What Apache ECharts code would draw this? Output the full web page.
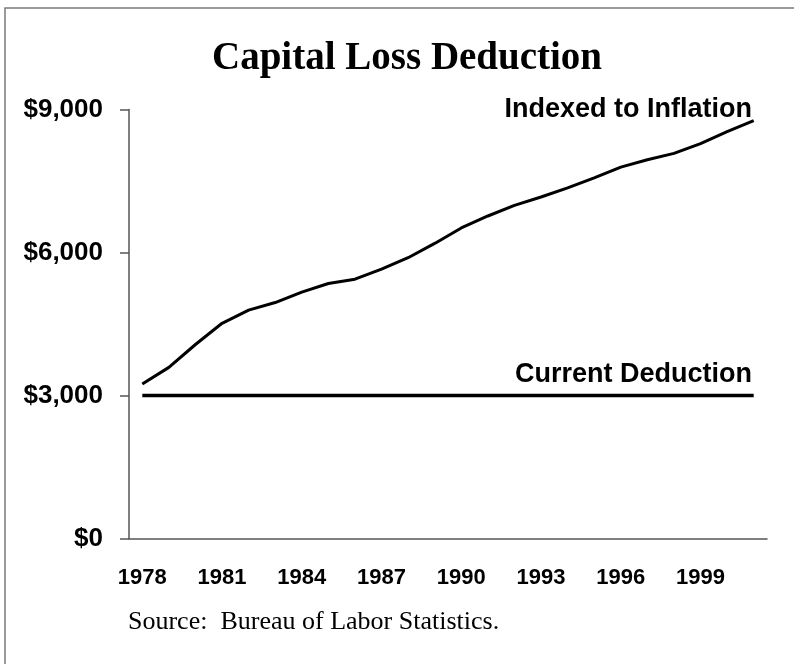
<!DOCTYPE html>
<html>
<head>
<meta charset="utf-8">
<script src="https://cdn.jsdelivr.net/npm/echarts@6/dist/echarts.min.js"></script>
<style>
html,body{margin:0;padding:0;background:#fff;}
#chart{width:794px;height:664px;}
</style>
</head>
<body>
<div id="chart"></div>
<script>
var years = ['1978','1979','1980','1981','1982','1983','1984','1985','1986','1987','1988','1989','1990','1991','1992','1993','1994','1995','1996','1997','1998','1999','2000','2001'];
var indexedValues = [3240,3590,4070,4515,4790,4950,5170,5350,5440,5650,5890,6190,6515,6766,6990,7165,7355,7565,7790,7945,8080,8285,8535,8766];
var currentValues = [3000,3000,3000,3000,3000,3000,3000,3000,3000,3000,3000,3000,3000,3000,3000,3000,3000,3000,3000,3000,3000,3000,3000,3000];
var yTicks = [0,3000,6000,9000];

var chart = echarts.init(document.getElementById('chart'), null, {renderer:'canvas'});
chart.setOption({
  animation:false,
  backgroundColor:'#fff',
  title:{
    text:'Capital Loss Deduction',
    left:207, top:34,
    textStyle:{fontFamily:'Liberation Serif', fontWeight:'bold', fontSize:39, color:'#000'}
  },
  grid:{left:129, right:27, top:109.5, bottom:125.5, containLabel:false},
  xAxis:{
    type:'category', data:years, boundaryGap:true,
    axisLine:{lineStyle:{color:'#555', width:1.5}},
    axisTick:{show:false},
    axisLabel:{interval:2, margin:28, fontFamily:'Liberation Sans', fontWeight:'bold', fontSize:22, color:'#000'}
  },
  yAxis:{
    type:'value', min:0, max:9000, interval:3000,
    axisLine:{show:true, lineStyle:{color:'#555', width:1.5}},
    axisTick:{show:true, length:9, lineStyle:{color:'#555', width:1.5}},
    splitLine:{show:false},
    axisLabel:{margin:26, fontFamily:'Liberation Sans', fontWeight:'bold', fontSize:26, color:'#000',
      formatter:function(v){ return '$' + v.toLocaleString('en-US'); }}
  },
  series:[
    {name:'Indexed to Inflation', type:'line', data:indexedValues, symbol:'none',
     lineStyle:{color:'#000', width:3}},
    {name:'Current Deduction', type:'line', data:currentValues, symbol:'none',
     lineStyle:{color:'#000', width:3.5}}
  ],
  graphic:[
    {type:'rect', shape:{x:5, y:8, width:820, height:700}, style:{fill:null, stroke:'#7a7a7a', lineWidth:1.5}, silent:true},
    {type:'text', right:42, top:96, style:{text:'Indexed to Inflation', font:'bold 27px "Liberation Sans"', fill:'#000'}},
    {type:'text', right:42, top:361, style:{text:'Current Deduction', font:'bold 27px "Liberation Sans"', fill:'#000'}},
    {type:'text', left:128, top:609, style:{text:'Source:  Bureau of Labor Statistics.', font:'26px "Liberation Serif"', fill:'#000'}}
  ]
});
</script>
</body>
</html>
